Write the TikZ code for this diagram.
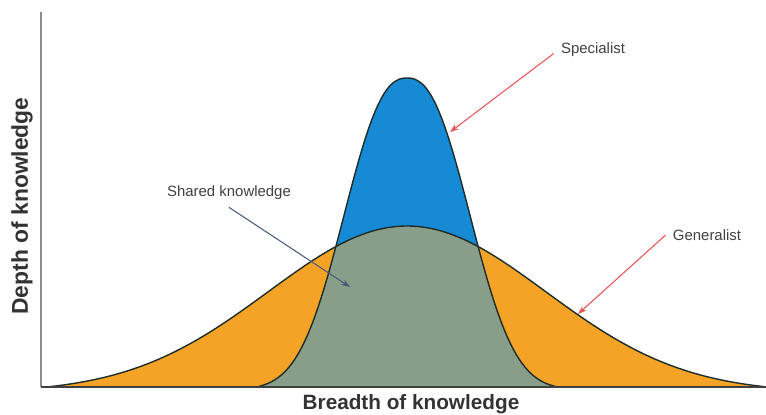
\documentclass[tikz,border=0pt]{standalone}
\usepackage{fontspec}
\setmainfont{Liberation Sans}
\usetikzlibrary{arrows.meta}

\definecolor{specblue}{RGB}{22,138,212}
\definecolor{genorange}{RGB}{245,163,38}
\definecolor{sharedgreen}{RGB}{136,158,136}
\definecolor{arrowred}{RGB}{232,84,84}
\definecolor{arrowslate}{RGB}{70,92,125}
\definecolor{outline}{RGB}{30,45,40}

\tikzset{
  curve/.style={draw=outline, line width=0.8pt},
  callout/.style={font=\fontsize{8.5}{10}\selectfont, text=black!75, inner sep=1pt},
  pointer/.style={-{Stealth[length=5pt,width=3.5pt]}, line width=0.6pt},
  axislabel/.style={font=\bfseries\fontsize{11.8}{14}\selectfont, text=black!80},
}

% the two knowledge profiles, in pixel units (baseline at y=387)
\newcommand{\genpath}{plot[domain=46:764, samples=120, smooth] (\x, {387 - 161*(exp(-((\x-407)/196)*((\x-407)/196)) - 0.034)/0.966})}
\newcommand{\specpath}{plot[domain=256:558, samples=102, smooth] (\x, {387 - 309*(exp(-(abs(\x-407)/79)^2.4) - 0.009)/0.991})}

\begin{document}
\begin{tikzpicture}[x=0.02cm, y=-0.02cm]
  \useasboundingbox (0,0) rectangle (766,414);

  % Generalist (orange)
  \fill[genorange] \genpath -- cycle;
  % Specialist (blue)
  \fill[specblue] \specpath -- cycle;
  % Shared part
  \begin{scope}
    \clip \genpath -- cycle;
    \fill[sharedgreen] \specpath -- cycle;
  \end{scope}
  \draw[curve] \genpath;
  \draw[curve] \specpath;

  % Axes
  \draw[black!45, line width=1pt] (41,12) -- (41,387);
  \draw[black!75, line width=1pt] (41,387) -- (766,387);

  % Axis labels
  \node[axislabel, rotate=90, font=\bfseries\fontsize{13}{15}\selectfont] (depth) at (22,206) {Depth of knowledge};
  \node[axislabel] (breadth) at (411,404) {Breadth of knowledge};

  % Callouts
  \node[callout] (spec) at (593,50) {Specialist};
  \node[callout] (gen) at (707,235) {Generalist};
  \node[callout] (shared) at (229,193) {Shared knowledge};

  \coordinate (specTip) at (450,132);
  \coordinate (genTip) at (578,314);
  \coordinate (sharedTip) at (350,287);

  \draw[pointer, arrowred] ([xshift=-3pt,yshift=-2pt]spec.west) -- (specTip);
  \draw[pointer, arrowred] ([xshift=-3pt]gen.west) -- (genTip);
  \draw[pointer, arrowslate] ([yshift=-3pt]shared.south) -- (sharedTip);
\end{tikzpicture}
\end{document}
